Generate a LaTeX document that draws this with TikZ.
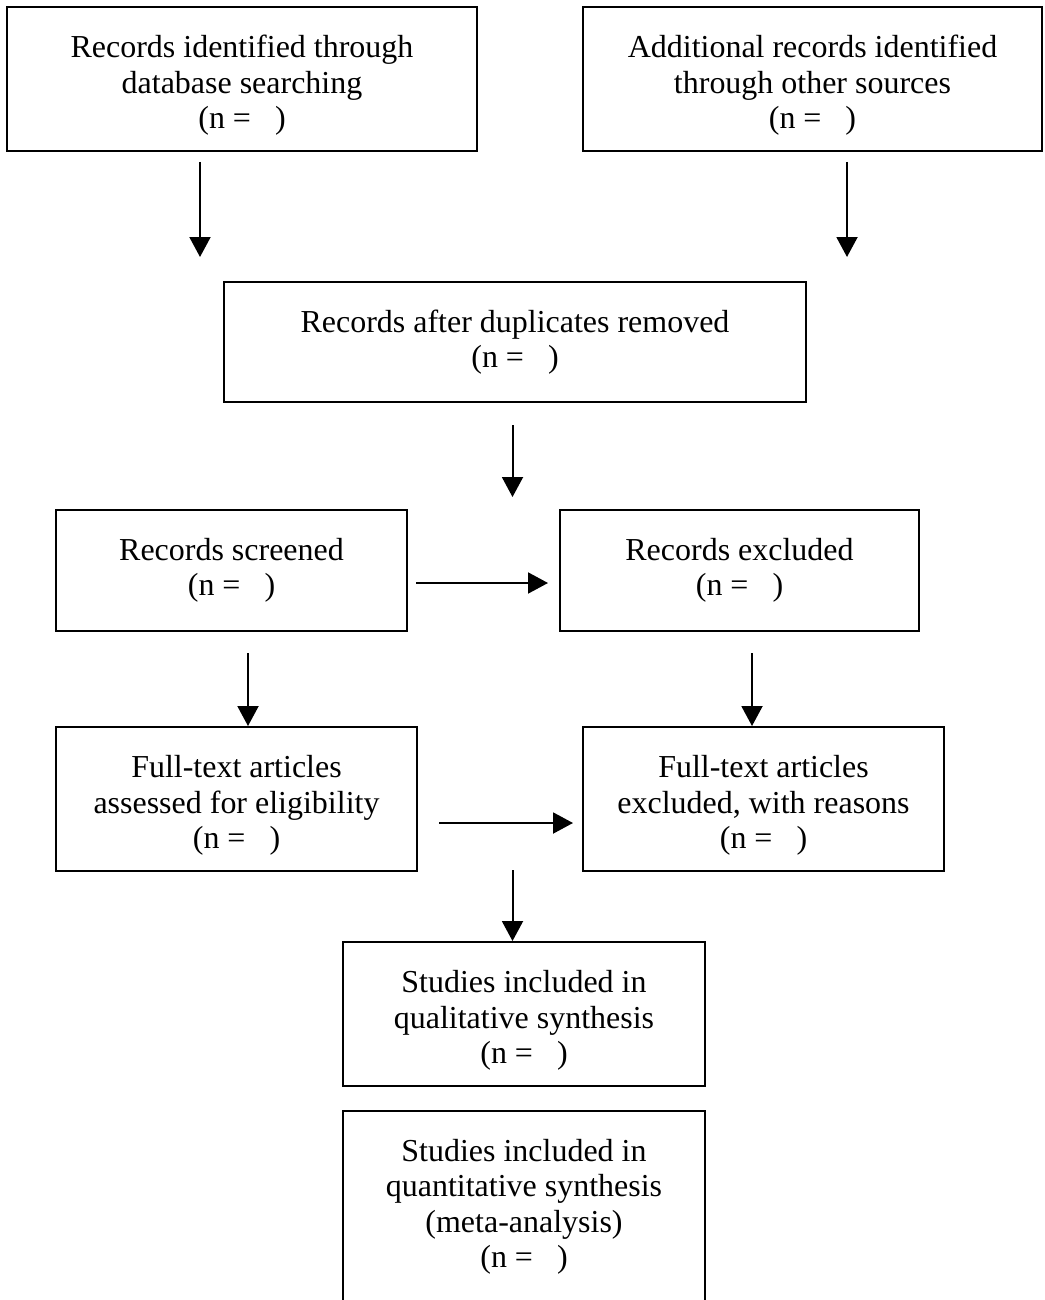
\documentclass[tikz,border=0pt]{standalone}
\usepackage{fontspec}
\setmainfont{Liberation Serif}
\usetikzlibrary{arrows.meta}
\newcommand\topgap{\rule{0pt}{0.7cm}}
\tikzset{
  box/.style = {draw, line width=0.04cm, align=center, inner sep=0pt,
    font=\fontsize{18.2}{20.2}\selectfont},
  arr/.style = {line width=0.04cm, -{Triangle[width=0.42cm,length=0.4cm]}}
}
\begin{document}
\begin{tikzpicture}[x=0.02cm, y=-0.02cm]
\clip (0,0) rectangle (1044,1300);
\node[box, minimum width=9.4cm, minimum height=2.88cm] (db) at (242,79)
  {\topgap Records identified through\\database searching\\(n = \ \ )};
\node[box, minimum width=9.18cm, minimum height=2.88cm] (other) at (812.5,79)
  {\topgap Additional records identified\\through other sources\\(n = \ \ )};
\node[box, minimum width=11.64cm, minimum height=2.4cm] (dup) at (515,342)
  {Records after duplicates removed\\(n = \ \ )};
\node[box, minimum width=7.02cm, minimum height=2.42cm] (screened) at (231.5,570.5)
  {Records screened\\(n = \ \ )};
\node[box, minimum width=7.18cm, minimum height=2.42cm] (excluded) at (739.5,570.5)
  {Records excluded\\(n = \ \ )};
\node[box, minimum width=7.22cm, minimum height=2.88cm] (fulltext) at (236.5,799)
  {\topgap Full-text articles\\assessed for eligibility\\(n = \ \ )};
\node[box, minimum width=7.22cm, minimum height=2.88cm] (fullexcl) at (763.5,799)
  {\topgap Full-text articles\\excluded, with reasons\\(n = \ \ )};
\node[box, minimum width=7.24cm, minimum height=2.88cm] (qual) at (524,1014)
  {\topgap Studies included in\\qualitative synthesis\\(n = \ \ )};
\node[box, minimum width=7.24cm, minimum height=3.84cm] (quant) at (524,1207)
  {Studies included in\\quantitative synthesis\\(meta-analysis)\\(n = \ \ )};

\coordinate (dbout) at (200,162);
\coordinate (dbin) at (200,257);
\coordinate (otherout) at (847,162);
\coordinate (otherin) at (847,257);
\coordinate (dupout) at (512.5,425);
\coordinate (dupin) at (512.5,497);
\coordinate (scrright) at (416,583);
\coordinate (exclleft) at (548,583);
\coordinate (scrdown) at (248,653);
\coordinate (excldown) at (752,653);
\coordinate (fullright) at (439,823);
\coordinate (fullexclleft) at (573,823);
\coordinate (fulldown) at (512.5,870);

\draw[arr] (dbout) -- (dbin);
\draw[arr] (otherout) -- (otherin);
\draw[arr] (dupout) -- (dupin);
\draw[arr] (scrright) -- (exclleft);
\draw[arr] (scrdown) -- (scrdown |- fulltext.north);
\draw[arr] (excldown) -- (excldown |- fullexcl.north);
\draw[arr] (fullright) -- (fullexclleft);
\draw[arr] (fulldown) -- (fulldown |- qual.north);
\end{tikzpicture}
\end{document}
